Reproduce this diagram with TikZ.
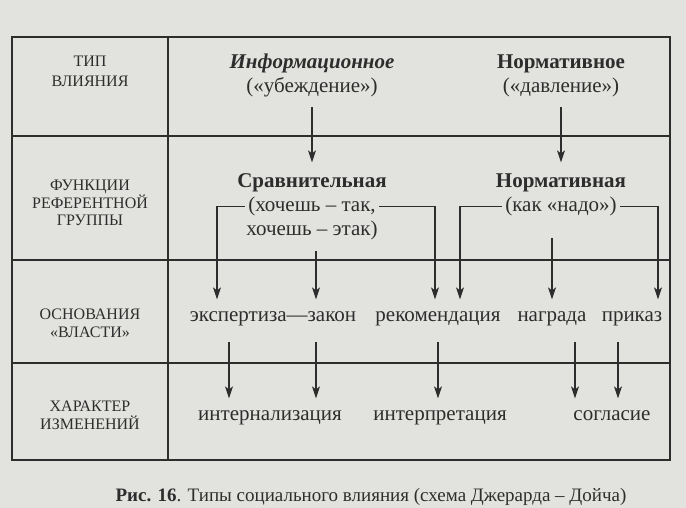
\documentclass[tikz,border=0pt]{standalone}
\usepackage{fontspec}
\setmainfont{Liberation Serif}
\usepackage{xcolor}
\usetikzlibrary{arrows.meta, positioning}

\definecolor{paper}{RGB}{226,226,223}
\definecolor{ink}{RGB}{45,45,45}

\tikzset{
  arr/.style={-{Stealth[length=12pt, width=8pt, inset=3pt]}, line width=1.1pt, draw=ink},
  head/.style={inner sep=0pt, text height=11pt, text depth=0pt, font=\fontsize{16}{18}\selectfont},
  cell/.style={inner sep=0pt, text height=14pt, text depth=4pt, font=\fontsize{21}{25}\selectfont},
  word/.style={inner xsep=0pt, inner ysep=11pt, text height=10pt, text depth=9pt, font=\fontsize{21}{25}\selectfont},
}

\begin{document}
\begin{tikzpicture}[x=1pt, y=-1pt, every node/.style={text=ink}, line width=1.2pt]
		\useasboundingbox[fill=paper] (0,0) rectangle (686,508);
		
		% table
		\draw[ink] (12,37) rectangle (670,460);
		\draw[ink] (168,37) -- (168,460);
		\draw[ink] (12,136) -- (670,136);
		\draw[ink] (12,260) -- (670,260);
		\draw[ink] (12,363) -- (670,363);
		
		% left column
		\node (tip1) [head, anchor=base] at (90,67) {ТИП};
		\node (tip2) [head, below=7pt of tip1] {ВЛИЯНИЯ};
		\node (fun1) [head, anchor=base] at (90,190.5) {ФУНКЦИИ};
		\node (fun2) [head, below=5.5pt of fun1] {РЕФЕРЕНТНОЙ};
		\node (fun3) [head, below=5.5pt of fun2] {ГРУППЫ};
		\node (osn1) [head, anchor=base] at (90,319) {ОСНОВАНИЯ};
		\node (osn2) [head, below=6pt of osn1] {«ВЛАСТИ»};
		\node (har1) [head, anchor=base] at (90,411) {ХАРАКТЕР};
		\node (har2) [head, below=6pt of har1] {ИЗМЕНЕНИЙ};
		
		% types
		\node (info1) [cell, anchor=base] at (312,69) {\textbf{\textit{Информационное}}};
		\node (info2) [cell, below=4pt of info1] {(«убеждение»)};
		\node (norm1) [cell, anchor=base] at (561,69) {\textbf{Нормативное}};
		\node (norm2) [cell, below=4pt of norm1] {(«давление»)};
		
		% functions
		\node (srav1) [cell, anchor=base] at (312,188) {\textbf{Сравнительная}};
		\node (srav2) [cell, below=4.5pt of srav1] {(хочешь -- так,};
		\node (srav3) [cell, below=4.5pt of srav2] {хочешь -- этак)};
		\node (normf1) [cell, anchor=base] at (561,188) {\textbf{Нормативная}};
		\node (normf2) [cell, below=4.5pt of normf1] {(как «надо»)};
		
		% bases of power
		\node (expert) [word, anchor=base] at (273,321) {экспертиза---закон};
		\node (recom) [word, anchor=base] at (438,321) {рекомендация};
		\node (nagr) [word, anchor=base] at (552,321) {награда};
		\node (prikaz) [word, anchor=base] at (632,321) {приказ};
		
		% changes
		\node (intern) [word, anchor=base] at (270,420) {интернализация};
		\node (interp) [word, anchor=base] at (440,420) {интерпретация};
		\node (soglas) [word, anchor=base] at (612,420) {согласие};
		
		\node (caption) [anchor=base, font=\fontsize{19}{23}\selectfont] at (371,501) {\textbf{Рис. 16}. Типы социального влияния (схема Джерарда -- Дойча)};
		
		% Edges
		\draw[arr, shorten <=10pt, shorten >=11pt] (info2) -- (srav1);
		\draw[arr, shorten <=10pt, shorten >=11pt] (norm2) -- (normf1);
		
		\draw[arr] ([xshift=-3pt]srav2.west) -| ([xshift=-56pt]expert.north);
		\draw[arr, shorten <=11pt] ([xshift=43pt]expert.north |- srav3.south) -- ([xshift=43pt]expert.north);
		\draw[arr] ([xshift=3pt]srav2.east) -| ([xshift=-3pt]recom.north);
		\draw[arr] ([xshift=-3pt]normf2.west) -| ([xshift=22pt]recom.north);
		\draw[arr, shorten <=22pt] (nagr.north |- normf2.south) -- (nagr.north);
		\draw[arr] ([xshift=3pt]normf2.east) -| ([xshift=26pt]prikaz.north);
		
		\draw[arr] ([xshift=-44pt]expert.south) -- ([xshift=-44pt]expert.south |- intern.north);
		\draw[arr] ([xshift=43pt]expert.south) -- ([xshift=43pt]expert.south |- intern.north);
		\draw[arr] (recom.south) -- (recom.south |- interp.north);
		\draw[arr] ([xshift=23pt]nagr.south) -- ([xshift=23pt]nagr.south |- soglas.north);
		\draw[arr] ([xshift=-14pt]prikaz.south) -- ([xshift=-14pt]prikaz.south |- soglas.north);
		
	\end{tikzpicture}
\end{document}
